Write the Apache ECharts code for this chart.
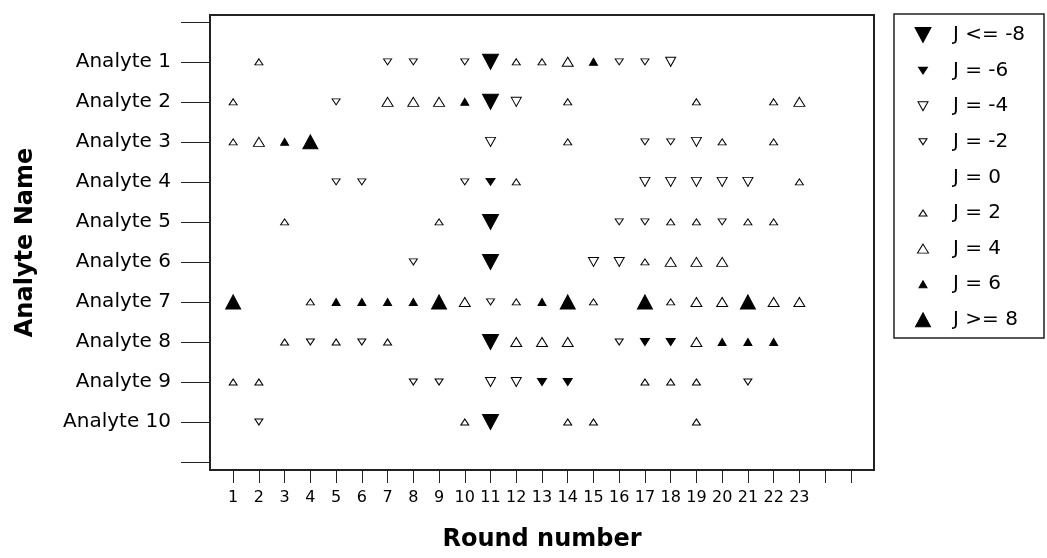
<!DOCTYPE html>
<html>
<head>
<meta charset="utf-8">
<script src="https://cdn.jsdelivr.net/npm/echarts@6/dist/echarts.min.js"></script>
<style>
html,body{margin:0;padding:0;background:#fff;}
#chart{width:1047px;height:558px;}
</style>
</head>
<body>
<div id="chart"></div>
<script>
// ---- data ----
const analytes = ['Analyte 1','Analyte 2','Analyte 3','Analyte 4','Analyte 5','Analyte 6','Analyte 7','Analyte 8','Analyte 9','Analyte 10'];
const rounds = [1,2,3,4,5,6,7,8,9,10,11,12,13,14,15,16,17,18,19,20,21,22,23];
const xTicks = [1,2,3,4,5,6,7,8,9,10,11,12,13,14,15,16,17,18,19,20,21,22,23,24,25];
const yTicks = [0,1,2,3,4,5,6,7,8,9,10,11];
// J score per round (rounds 1..23), 0 = no marker
const a1  = [0,2,0,0,0,0,-2,-2,0,-2,-8,2,2,4,6,-2,-2,-4,0,0,0,0,0];
const a2  = [2,0,0,0,-2,0,4,4,4,6,-8,-4,0,2,0,0,0,0,2,0,0,2,4];
const a3  = [2,4,6,8,0,0,0,0,0,0,-4,0,0,2,0,0,-2,-2,-4,2,0,2,0];
const a4  = [0,0,0,0,-2,-2,0,0,0,-2,-6,2,0,0,0,0,-4,-4,-4,-4,-4,0,2];
const a5  = [0,0,2,0,0,0,0,0,2,0,-8,0,0,0,0,-2,-2,2,2,-2,2,2,0];
const a6  = [0,0,0,0,0,0,0,-2,0,0,-8,0,0,0,-4,-4,2,4,4,4,0,0,0];
const a7  = [8,0,0,2,6,6,6,6,8,4,-2,2,6,8,2,0,8,2,4,4,8,4,4];
const a8  = [0,0,2,-2,2,-2,2,0,0,0,-8,4,4,4,0,-2,-6,-6,4,6,6,6,0];
const a9  = [2,2,0,0,0,0,0,-2,-2,0,-4,-4,-6,-6,0,0,2,2,2,0,-2,0,0];
const a10 = [0,-2,0,0,0,0,0,0,0,2,-8,0,0,2,2,0,0,0,2,0,0,0,0];
const jLevels = [-8,-6,-4,-2,0,2,4,6,8];
const jLabels = ['J <= -8','J = -6','J = -4','J = -2','J = 0','J = 2','J = 4','J = 6','J >= 8'];

// ---- styles per level ----
const styleFor = {
  '-8': {size:[16,15], rot:180, fill:'#000'},
  '-6': {size:[9,7],   rot:180, fill:'#000'},
  '-4': {size:[10,9],  rot:180, fill:'#fff'},
  '-2': {size:[8,6],   rot:180, fill:'#fff'},
  '0':  null,
  '2':  {size:[8,6],   rot:0,   fill:'#fff'},
  '4':  {size:[11,9],  rot:0,   fill:'#fff'},
  '6':  {size:[8,7],   rot:0,   fill:'#000'},
  '8':  {size:[15,14], rot:0,   fill:'#000'}
};

const rows = [a1,a2,a3,a4,a5,a6,a7,a8,a9,a10];
const FONT = 'DejaVu Sans';
const series = [];
jLevels.forEach(function(j){
  const st = styleFor[String(j)];
  if (!st) return;
  const data = [];
  rows.forEach(function(r, ai){
    r.forEach(function(v, ri){ if (v === j) data.push([rounds[ri], ai + 1]); });
  });
  series.push({
    type:'scatter', xAxisIndex:0, yAxisIndex:0, name: 'J' + j,
    symbol:'triangle', symbolSize: st.size, symbolRotate: st.rot,
    itemStyle:{color: st.fill, borderColor:'#000', borderWidth: 1, opacity: 1},
    silent:true, animation:false, data: data
  });
});

// legend built as a small panel
const legendRowStart = 21, legendRowStep = 35.6, legendMarkX = 29;
jLevels.forEach(function(j, i){
  const st = styleFor[String(j)];
  if (st) {
    series.push({
      type:'scatter', xAxisIndex:1, yAxisIndex:1, name:'leg' + i,
      symbol:'triangle', symbolSize: st.size, symbolRotate: st.rot,
      itemStyle:{color: st.fill, borderColor:'#000', borderWidth: 1, opacity: 1},
      silent:true, animation:false,
      data:[[legendMarkX, legendRowStart + i * legendRowStep]]
    });
  }
  series.push({
    type:'scatter', xAxisIndex:1, yAxisIndex:1, name:'legtxt' + i,
    symbol:'circle', symbolSize: 0,
    itemStyle:{color:'transparent', opacity: 1},
    label:{show:true, position:'right', distance: 30, formatter: jLabels[i],
           fontFamily: FONT, fontSize: 20, color:'#000', opacity: 1},
    silent:true, animation:false,
    data:[[legendMarkX, legendRowStart + i * legendRowStep]]
  });
});

const chart = echarts.init(document.getElementById('chart'), null, {renderer:'canvas'});
chart.setOption({
  backgroundColor:'#fff',
  animation:false,
  grid:[
    {left:210, top:15, width:664, height:455, show:true, borderColor:'#222', borderWidth:2, backgroundColor:'#fff'},
    {left:894, top:14, width:150, height:324, show:true, borderColor:'#222', borderWidth:1.5, backgroundColor:'#fff'}
  ],
  xAxis:[
    {type:'value', gridIndex:0, min:0.1, max:25.9, position:'bottom',
     name:'Round number', nameLocation:'middle', nameGap:58,
     nameTextStyle:{fontFamily:FONT, fontSize:24, fontWeight:'bold', color:'#000'},
     axisLine:{show:false, onZero:false}, splitLine:{show:false},
     axisTick:{show:true, length:13, customValues: xTicks, lineStyle:{color:'#222', width:1}},
     axisLabel:{show:true, customValues: rounds, fontFamily:FONT, fontSize:16, color:'#000', margin:20}
    },
    {type:'value', gridIndex:1, min:0, max:150, show:false}
  ],
  yAxis:[
    {type:'value', gridIndex:0, inverse:true, min:-0.17, max:11.2, position:'left',
     name:'Analyte Name', nameLocation:'middle', nameGap:172, nameRotate:90,
     nameTextStyle:{fontFamily:FONT, fontSize:24, fontWeight:'bold', color:'#000'},
     axisLine:{show:false, onZero:false}, splitLine:{show:false},
     axisTick:{show:true, length:29, customValues: yTicks, lineStyle:{color:'#222', width:1}},
     axisLabel:{show:true, customValues:[1,2,3,4,5,6,7,8,9,10], margin:39,
       formatter:function(v){ return analytes[Math.round(v) - 1] || ''; },
       fontFamily:FONT, fontSize:20, color:'#000'}
    },
    {type:'value', gridIndex:1, inverse:true, min:0, max:324, show:false}
  ],
  series: series
});
</script>
</body>
</html>
